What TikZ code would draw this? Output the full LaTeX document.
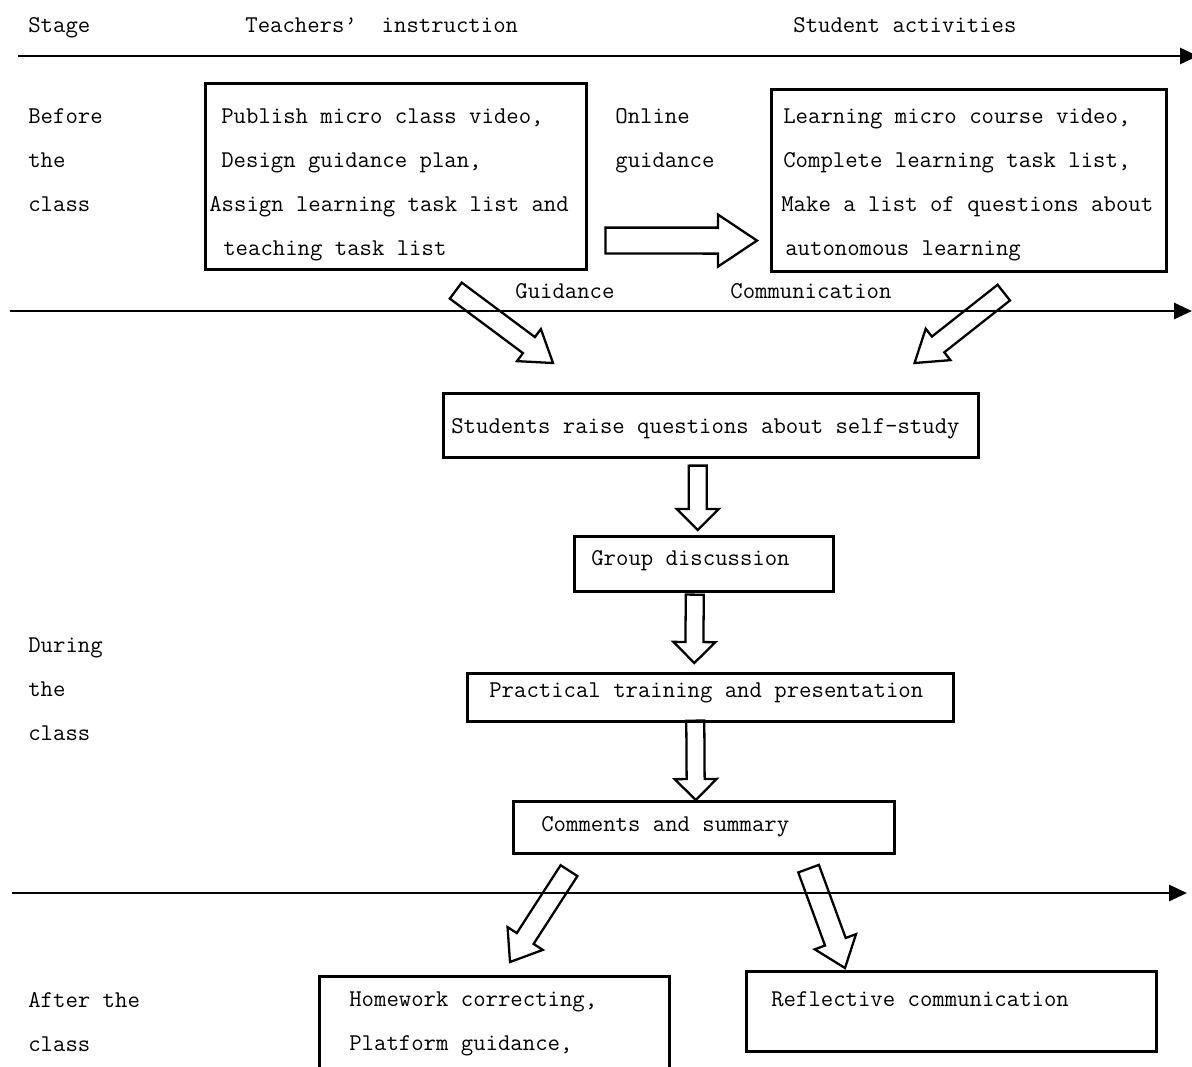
\documentclass[tikz,border=0pt]{standalone}
\usepackage{fontspec}
\usetikzlibrary{arrows.meta, calc}

% hollow block arrow: shaft half width, head half width, head length, from, to
\newcommand{\fatarrow}[5]{%
  \coordinate (fa-base) at ($(#5)!#3!(#4)$);
  \draw[fat] ($(#4)!#1!90:(#5)$) -- ($(fa-base)!#1!90:(#5)$)
    -- ($(fa-base)!#2!90:(#5)$) -- (#5)
    -- ($(fa-base)!#2!-90:(#5)$) -- ($(fa-base)!#1!-90:(#5)$)
    -- ($(#4)!#1!-90:(#5)$) -- cycle;
}

\begin{document}
\begin{tikzpicture}[
    x=0.02cm, y=-0.02cm,
    every node/.style={font=\ttfamily\fontsize{13.7}{25}\selectfont},
    lbl/.style={anchor=base west, inner sep=0pt, align=left},
    box/.style={draw, line width=1.5pt, anchor=north west, inner sep=0pt, align=justify},
    stage/.style={line width=1.6pt, -{Triangle[length=0.36cm, width=0.32cm]}},
    fat/.style={line width=1.3pt}
  ]
  \useasboundingbox (0,0) rectangle (1192,1066);

  % column heads and stages (multi-line labels sit on their last line)
  \node[lbl] (stage) at (28,32) {Stage};
  \node[lbl] (teach) at (245,32) {Teachers’\ \ instruction};
  \node[lbl] (stud) at (793,32) {Student activities};
  \node[lbl] (before) at (28,211) {Before\\the\\class};
  \node[lbl] (during) at (28,740) {During\\the\\class};
  \node[lbl] (after) at (28,1051) {After the\\class};

  \draw[stage] (18,56) -- (1198,56);
  \draw[stage] (10,311) -- (1192,311);
  \draw[stage] (12,893) -- (1187,893);

  % before the class
  \node[box, text width=7.62cm, text height=0.8cm, text depth=2.92cm] (t1) at (204,82)
    {\hspace*{0.32cm}Publish micro class video,\\
     \hspace*{0.32cm}Design guidance plan,\\
     \hspace*{0.08cm}Assign learning task list and\\
     \hspace*{0.36cm}teaching task list};
  \node[box, text width=7.9cm, text height=0.68cm, text depth=2.96cm] (s1) at (770,88)
    {\hspace*{0.24cm}Learning micro course video,\\
     \hspace*{0.24cm}Complete learning task list,\\
     \hspace*{0.2cm}Make a list of questions about\\
     \hspace*{0.28cm}autonomous learning};
  \node[lbl] (online) at (615,167) {Online\\guidance};
  \node[lbl] (guid) at (515,298) {Guidance};
  \node[lbl] (comm) at (730,298) {Communication};

  % during the class
  \node[box, text width=10.7cm, text height=0.8cm, text depth=0.48cm] (q) at (442,392)
    {\hspace*{0.16cm}Students raise questions about self-study};
  \node[box, text width=5.18cm, text height=0.58cm, text depth=0.52cm] (g) at (573,535)
    {\hspace*{0.34cm}Group discussion};
  \node[box, text width=9.72cm, text height=0.48cm, text depth=0.48cm] (p) at (466,672)
    {\hspace*{0.44cm}Practical training and presentation};
  \node[box, text width=7.62cm, text height=0.6cm, text depth=0.44cm] (c) at (512,800)
    {\hspace*{0.56cm}Comments and summary};

  % after the class
  \node[box, text width=7cm, text height=0.6cm, text depth=1.6cm] (h) at (318,975)
    {\hspace*{0.6cm}Homework correcting,\\
     \hspace*{0.6cm}Platform guidance,};
  \node[box, text width=8.2cm, text height=0.7cm, text depth=0.9cm] (r) at (745,970)
    {\hspace*{0.5cm}Reflective communication};

  % block arrows
  \coordinate (og-tail) at ($(t1.south east)+(18,-30)$);
  \coordinate (og-tip) at ($(s1.south west)+(-13,-32)$);
  \fatarrow{0.26cm}{0.52cm}{0.78cm}{og-tail}{og-tip}
  \coordinate (gd-tail) at ($(t1.south)+(60,20)$);
  \coordinate (gd-tip) at ($(q.north west)+(111,-29)$);
  \fatarrow{0.2cm}{0.4cm}{0.6cm}{gd-tail}{gd-tip}
  \coordinate (cm-tail) at ($(s1.south)+(35,20)$);
  \coordinate (cm-tip) at ($(q.north east)+(-65,-29)$);
  \fatarrow{0.2cm}{0.4cm}{0.6cm}{cm-tail}{cm-tip}
  \coordinate (qg-tail) at ($(q.south)+(-13,7)$);
  \coordinate (qg-tip) at ($(g.north)+(-6,-5)$);
  \fatarrow{0.18cm}{0.42cm}{0.42cm}{qg-tail}{qg-tip}
  \coordinate (gp-tail) at ($(g.south)+(-9,2)$);
  \coordinate (gp-tip) at ($(p.north)+(-16,-9)$);
  \fatarrow{0.18cm}{0.42cm}{0.42cm}{gp-tail}{gp-tip}
  \coordinate (pc-tail) at ($(p.south)+(-15,-2)$);
  \coordinate (pc-tip) at ($(c.north)+(-8,0)$);
  \fatarrow{0.18cm}{0.42cm}{0.42cm}{pc-tail}{pc-tip}
  \coordinate (ch-tail) at ($(c.south west)+(57,16)$);
  \coordinate (ch-tip) at ($(h.north west)+(192,-13)$);
  \fatarrow{0.2cm}{0.42cm}{0.56cm}{ch-tail}{ch-tip}
  \coordinate (cr-tail) at ($(c.south east)+(-87,14)$);
  \coordinate (cr-tip) at ($(r.north west)+(100,-2)$);
  \fatarrow{0.22cm}{0.44cm}{0.56cm}{cr-tail}{cr-tip}
\end{tikzpicture}
\end{document}
